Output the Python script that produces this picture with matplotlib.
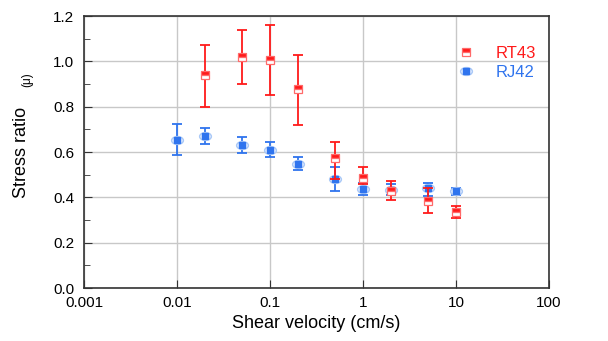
import matplotlib
matplotlib.use("Agg")
import matplotlib.pyplot as plt
from matplotlib.path import Path
from matplotlib.markers import MarkerStyle
from matplotlib.lines import Line2D
from matplotlib.legend_handler import HandlerTuple
import numpy as np

plt.rcParams['font.family'] = ['Liberation Sans', 'DejaVu Sans']

# RT43 data
rt_x = [0.02, 0.05, 0.1, 0.2, 0.5, 1, 2, 5, 10]
rt_y = [0.94, 1.02, 1.005, 0.88, 0.575, 0.485, 0.43, 0.385, 0.335]
rt_lo = [0.80, 0.90, 0.85, 0.72, 0.48, 0.46, 0.39, 0.33, 0.31]
rt_hi = [1.07, 1.14, 1.16, 1.03, 0.645, 0.535, 0.47, 0.44, 0.36]

# RJ42 data
rj_x = [0.01, 0.02, 0.05, 0.1, 0.2, 0.5, 1, 2, 5, 10]
rj_y = [0.655, 0.67, 0.63, 0.61, 0.548, 0.48, 0.437, 0.432, 0.44, 0.428]
rj_lo = [0.585, 0.635, 0.595, 0.58, 0.52, 0.43, 0.41, 0.41, 0.405, 0.41]
rj_hi = [0.725, 0.705, 0.665, 0.645, 0.58, 0.535, 0.465, 0.46, 0.465, 0.44]

xticks = [0.001, 0.01, 0.1, 1, 10, 100]
xticklabels = ['0.001', '0.01', '0.1', '1', '10', '100']
yticks = [0.0, 0.2, 0.4, 0.6, 0.8, 1.0, 1.2]

red = '#ff1a1a'
blue = '#2f74ee'
lightblue = '#a9c8f7'

ell = Path.unit_circle().transformed(matplotlib.transforms.Affine2D().scale(1.5, 1.0))
ell_marker = MarkerStyle(ell)

fig = plt.figure(figsize=(6.08, 3.41), dpi=100)
ax = fig.add_axes([84/608, 1-288/341, (549-84)/608, (288-16)/341])

ax.set_xscale('log')
ax.set_xlim(0.001, 100)
ax.set_ylim(0, 1.2)

ELL_MS = 8.5
SQ_MS = 3.8
RT_MS = 5.5

# RJ42
rj_err = [np.array(rj_y) - np.array(rj_lo), np.array(rj_hi) - np.array(rj_y)]
ax.errorbar(rj_x, rj_y, yerr=rj_err, fmt='none', ecolor=blue, elinewidth=1.3,
            capsize=3.3, capthick=1.3, zorder=3)
ax.plot(rj_x, rj_y, linestyle='none', marker=ell_marker, markersize=ELL_MS,
        markerfacecolor='#e6efff', markeredgecolor=lightblue, markeredgewidth=1.0, zorder=4)
ax.plot(rj_x, rj_y, linestyle='none', marker='s', markersize=SQ_MS,
        color=blue, zorder=5)

# RT43
rt_err = [np.array(rt_y) - np.array(rt_lo), np.array(rt_hi) - np.array(rt_y)]
ax.errorbar(rt_x, rt_y, yerr=rt_err, fmt='none', ecolor=red, elinewidth=1.3,
            capsize=3.3, capthick=1.3, zorder=6)
ax.plot(rt_x, rt_y, linestyle='none', marker='s', markersize=RT_MS, fillstyle='top',
        markerfacecolor=red, markerfacecoloralt='white', markeredgecolor='#ff6a6a',
        markeredgewidth=0.9, zorder=7)

ax.set_xticks(xticks)
ax.set_xticklabels(xticklabels)
ax.xaxis.set_minor_locator(matplotlib.ticker.NullLocator())
ax.set_yticks(yticks)
ax.set_yticklabels([f'{v:.1f}' for v in yticks])
ax.yaxis.set_minor_locator(matplotlib.ticker.MultipleLocator(0.1))
ax.grid(True, which='major', color='#c8c8c8', linewidth=1.0)
ax.set_axisbelow(True)
ax.tick_params(which='both', direction='in', labelsize=11, color='#333333')
ax.tick_params(which='major', length=6)
ax.tick_params(which='minor', length=4)
ax.tick_params(axis='x', pad=6)
ax.tick_params(axis='y', pad=7)
for s in ax.spines.values():
    s.set_color('#333333')
    s.set_linewidth(1.2)

ax.set_xlabel('Shear velocity (cm/s)', fontsize=13, labelpad=3)
fig.text(22/608, 1-152/341, 'Stress ratio', rotation=90, fontsize=13,
         ha='center', va='center')
fig.text(27/608, 1-80/341, '(\u03bc)', rotation=90, fontsize=8.5,
         ha='center', va='center')

h_rt = Line2D([], [], linestyle='none', marker='s', markersize=RT_MS, fillstyle='top',
              markerfacecolor=red, markerfacecoloralt='white', markeredgecolor='#ff6a6a',
              markeredgewidth=0.9)
h_rj1 = Line2D([], [], linestyle='none', marker=ell_marker, markersize=ELL_MS,
               markerfacecolor='#e6efff', markeredgecolor=lightblue, markeredgewidth=1.0)
h_rj2 = Line2D([], [], linestyle='none', marker='s', markersize=SQ_MS, color=blue)
leg = ax.legend([h_rt, (h_rj1, h_rj2)], ['RT43', 'RJ42'],
                handler_map={tuple: HandlerTuple(ndivide=1, pad=0)},
                loc='center left', bbox_to_anchor=(0.768, 0.828), frameon=False,
                fontsize=12, handlelength=1.2, handletextpad=1.2, labelspacing=0.22)
leg.get_texts()[0].set_color(red)
leg.get_texts()[1].set_color(blue)

fig.savefig('out.png', dpi=100)
